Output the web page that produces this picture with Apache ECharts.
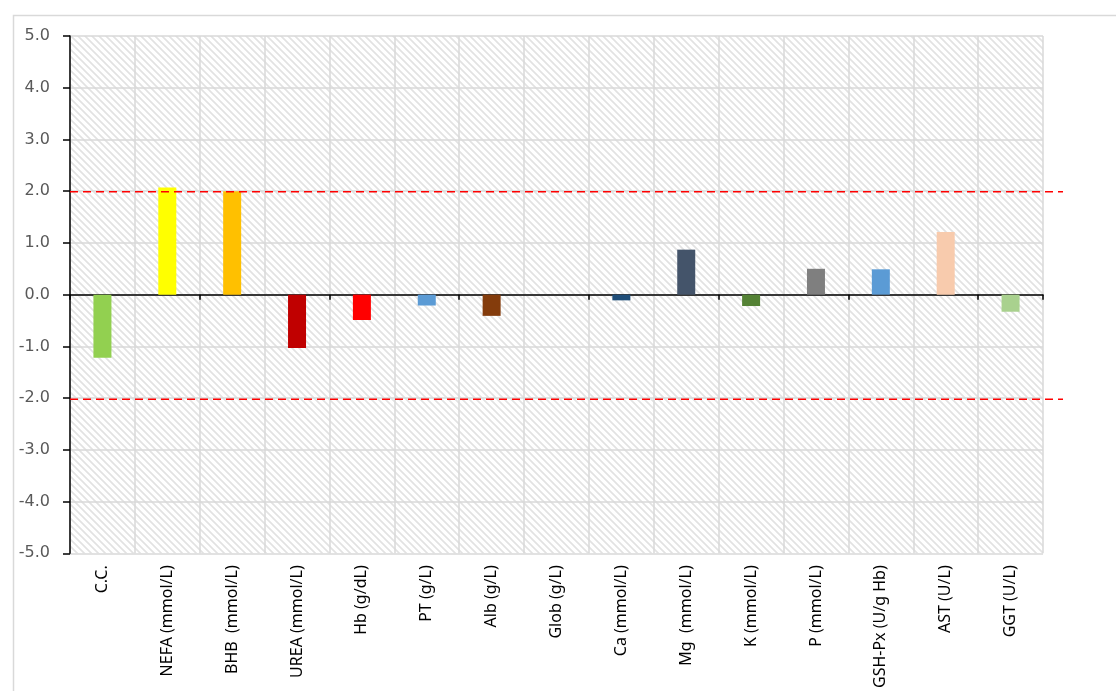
<!DOCTYPE html>
<html><head><meta charset="utf-8">
<script src="https://cdn.jsdelivr.net/npm/echarts@6/dist/echarts.min.js"></script>
<style>html,body{margin:0;padding:0;background:#fff}#c{width:1116px;height:691px}</style>
</head><body><div id="c"></div>
<script>
const categories = ['C.C.','NEFA (mmol/L)','BHB  (mmol/L)','UREA (mmol/L)','Hb (g/dL)','PT (g/L)','Alb (g/L)','Glob (g/L)','Ca (mmol/L)','Mg  (mmol/L)','K (mmol/L)','P (mmol/L)','GSH-Px (U/g Hb)','AST (U/L)','GGT (U/L)'];
const values = [-1.22, 2.07, 2.00, -1.03, -0.49, -0.21, -0.41, 0, -0.11, 0.87, -0.22, 0.50, 0.49, 1.21, -0.33];
const barColors = ['#92D050','#FFFF00','#FFC000','#C00000','#FF0000','#5B9BD5','#843C0C','#A5A5A5','#1F4E79','#44546A','#548235','#7F7F7F','#5B9BD5','#F8CBAD','#A9D18E'];
const yTicks = [-5, 5, 1];
const limits = [2, -2];

const pc = document.createElement('canvas');
pc.width = 7; pc.height = 7;
const g = pc.getContext('2d');
g.fillStyle = '#ffffff'; g.fillRect(0,0,7,7);
g.strokeStyle = '#e2e2e2'; g.lineWidth = 1.7;
for (let k = -7; k <= 7; k += 7) { g.beginPath(); g.moveTo(k - 1, -1); g.lineTo(k + 8, 8); g.stroke(); }

const chart = echarts.init(document.getElementById('c'));
chart.setOption({
  animation: false,
  graphic: [{type: 'rect', left: 11, top: 13, shape: {width: 1200, height: 800}, style: {fill: 'none', stroke: '#d9d9d9', lineWidth: 1.5}, z: -10}],
  grid: [
    {left: 70, right: 73, top: 36, bottom: 136, show: true, backgroundColor: {image: pc, repeat: 'repeat'}, borderWidth: 0},
    {left: 70, right: 53, top: 36, bottom: 136, show: false}
  ],
  xAxis: [
    {type: 'category', data: categories, gridIndex: 0, axisLine: {show: false, onZero: false}, axisTick: {show: false},
     splitLine: {show: true, lineStyle: {color: '#d9d9d9', width: 1.5}},
     axisLabel: {rotate: 90, margin: 12, color: '#000', interval: 0, fontFamily: 'Noto Sans', fontSize: 16}},
    {type: 'category', data: categories, gridIndex: 0, position: 'bottom', axisLine: {show: true, onZero: true, lineStyle: {color: '#000', width: 1.5}},
     axisTick: {show: true, inside: false, length: 5, lineStyle: {color: '#000', width: 1.5}}, axisLabel: {show: false}, splitLine: {show: false}},
    {type: 'value', gridIndex: 1, min: 0, max: 1, show: false}
  ],
  yAxis: [
    {type: 'value', gridIndex: 0, min: yTicks[0], max: yTicks[1], interval: yTicks[2],
     axisLine: {show: true, lineStyle: {color: '#000', width: 1.5}},
     axisTick: {show: true, length: 7, lineStyle: {color: '#000', width: 1.5}},
     splitLine: {show: true, lineStyle: {color: '#d9d9d9', width: 1.5}},
     axisLabel: {color: '#595959', margin: 20, fontFamily: 'DejaVu Sans', fontSize: 16, formatter: v => v.toFixed(1)}},
    {type: 'value', gridIndex: 1, min: yTicks[0], max: yTicks[1], show: false}
  ],
  series: [
    {type: 'bar', xAxisIndex: 0, yAxisIndex: 0, barWidth: 18,
     data: values.map((v, i) => ({value: v, itemStyle: {color: barColors[i]}}))},
    ...limits.map(l => ({type: 'line', xAxisIndex: 2, yAxisIndex: 1, symbol: 'none', z: 5,
      lineStyle: {color: '#FF0000', width: 1.5, type: [8, 5]}, data: [[0, l], [1, l]]}))
  ]
});
</script></body></html>
